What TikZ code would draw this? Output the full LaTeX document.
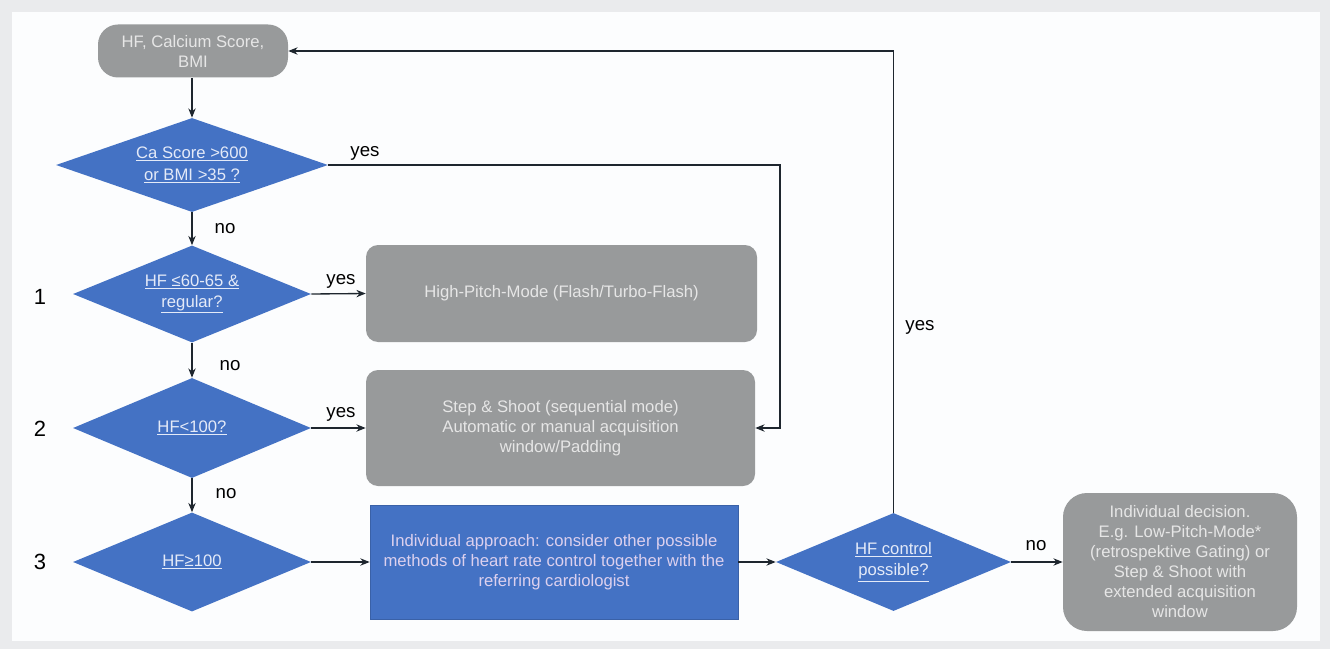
\documentclass[tikz,border=0pt]{standalone}
\usepackage{fontspec}
\setmainfont{Liberation Sans}
\usetikzlibrary{shapes.geometric}
\usetikzlibrary{arrows.meta}
\definecolor{boxblue}{RGB}{68,114,196}
\definecolor{boxgray}{RGB}{152,154,155}
\definecolor{graytext}{RGB}{230,230,230}
\definecolor{bluetext}{RGB}{220,208,238}
\definecolor{asktext}{RGB}{228,234,248}
\definecolor{linedark}{RGB}{30,38,46}
\definecolor{paneledge}{RGB}{234,235,237}
\definecolor{panelfill}{RGB}{252,253,254}
\newcommand{\ask}[2] % first line, second line of a question
{\underline{#1}\\\underline{#2}}
\tikzset{
	question/.style={diamond, fill=boxblue, inner sep=0pt, shape aspect=2.5, text=asktext, align=center, font=\fontsize{12.5}{16}\selectfont},
	grayblock/.style={rectangle, fill=boxgray, rounded corners=9pt, text=graytext, align=center, font=\fontsize{12.5}{15}\selectfont},
	blueblock/.style={rectangle, fill=boxblue, draw=boxblue!85!black, line width=0.5pt, text=bluetext, align=center, font=\fontsize{12.5}{15}\selectfont},
	flow/.style={draw=linedark, line width=1pt, -{Stealth[length=7pt,width=5.5pt]}},
	answer/.style={font=\fontsize{14}{16}\selectfont, text=black, inner sep=0pt},
	stepno/.style={font=\fontsize{16.5}{18}\selectfont, text=black, inner sep=0pt}
}
\begin{document}
\begin{tikzpicture}[x=0.75pt, y=-0.75pt]
	% frame: 1330 x 649 px, y runs down
	\useasboundingbox (0,0) rectangle (1330,649);
	\fill[paneledge] (0,0) rectangle (1330,649);
	\fill[panelfill] (12,12) rectangle (1320,641);
	
	% left column
	\node[grayblock, rounded corners=15pt, minimum width=142.5pt, minimum height=39.75pt] (start) at (193,51) {HF, Calcium Score,\\BMI};
	\node[question, minimum width=204pt, minimum height=70.5pt] (ask0) at (192,165) {\ask{Ca Score >600}{or BMI >35 ?}};
	\node[question, minimum width=178.5pt, minimum height=72.75pt] (ask1) at (192,294) {\ask{HF ≤60-65 \&}{regular?}};
	\node[question, minimum width=178.5pt, minimum height=75pt] (ask2) at (192,428) {\underline{HF<100?}};
	\node[question, minimum width=178.5pt, minimum height=74.25pt] (ask3) at (192,562) {\underline{HF≥100}};
	
	\node[stepno] (no1) at (40,297) {1};
	\node[stepno] (no2) at (40,429) {2};
	\node[stepno] (no3) at (40,562) {3};
	
	% middle column
	\node[grayblock, minimum width=293.25pt, minimum height=72.75pt] (mode1) at (561.5,293.5) {High-Pitch-Mode (Flash/Turbo-Flash)};
	\node[grayblock, minimum width=291.75pt, minimum height=87pt] (mode2) at (560.5,428) {Step \& Shoot (sequential mode)\\Automatic or manual acquisition\\window/Padding};
	\node[blueblock, minimum width=276pt, minimum height=85.5pt] (mode3) at (554,562) {Individual approach: consider other possible\\methods of heart rate control together with the\\referring cardiologist};
	
	% right side
	\node[question, minimum width=176.25pt, minimum height=73.5pt] (ask4) at (893.5,562) {\ask{HF control}{possible?}};
	\node[grayblock, rounded corners=18pt, minimum width=175.5pt, minimum height=103.5pt] (mode4) at (1180,562) {Individual decision.\\E.g. Low-Pitch-Mode*\\(retrospektive Gating) or\\Step \& Shoot with\\extended acquisition\\window};
	
	% arrows
	\draw[flow] (start.south -| ask0.north) -- (ask0);
	\draw[flow] (ask0) -- (ask1);
	\draw[flow] (ask1) -- (ask2);
	\draw[flow] (ask2) -- (ask3);
	\draw[flow] (ask1.east) -- (mode1.west);
	\draw[flow] (ask2.east) -- (mode2.west);
	\draw[flow] (ask3.east) -- (mode3.west);
	\draw[flow] (mode3.east) -- (ask4.west);
	\draw[flow] (ask4.east) -- (mode4.west);
	\coordinate (turn0) at (780,165);
	\draw[flow] (ask0.east) -- (turn0) |- (mode2.east);
	\draw[flow] (ask4.north) |- (start.east);
	
	% answers
	\node[answer] (yes0) at (365,153) {yes};
	\node[answer] (no0) at (225,229) {no};
	\node[answer] (yes1) at (341,281) {yes};
	\node[answer] (no1a) at (230,366) {no};
	\node[answer] (yes2) at (341,414) {yes};
	\node[answer] (no2a) at (226,494) {no};
	\node[answer] (yes4) at (920,327) {yes};
	\node[answer] (no4) at (1036,546) {no};
	
\end{tikzpicture}
\end{document}
